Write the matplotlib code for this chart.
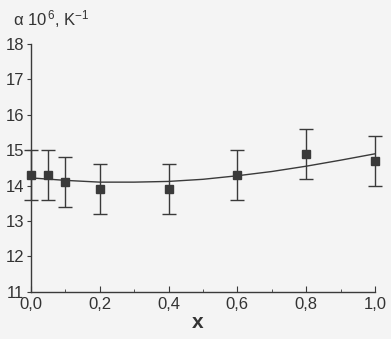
import matplotlib
matplotlib.use("Agg")
import matplotlib.pyplot as plt
from matplotlib.ticker import MultipleLocator

plt.rcParams['font.family'] = ['Liberation Sans', 'DejaVu Sans']
plt.rcParams['mathtext.fontset'] = 'custom'
plt.rcParams['mathtext.rm'] = 'Liberation Sans'
plt.rcParams['mathtext.it'] = 'Liberation Sans:italic'

x_pts = [0.0, 0.05, 0.1, 0.2, 0.4, 0.6, 0.8, 1.0]
alpha_pts = [14.3, 14.3, 14.1, 13.9, 13.9, 14.3, 14.9, 14.7]
alpha_err = [0.7, 0.7, 0.7, 0.7, 0.7, 0.7, 0.7, 0.7]

x_fit = [0.0, 0.1, 0.2, 0.3, 0.4, 0.5, 0.6, 0.7, 0.8, 0.9, 1.0]
alpha_fit = [14.22, 14.15, 14.1, 14.1, 14.12, 14.18, 14.28, 14.4, 14.55, 14.72, 14.9]

xticks = [0.0, 0.2, 0.4, 0.6, 0.8, 1.0]
xticklabels = ['0,0', '0,2', '0,4', '0,6', '0,8', '1,0']
yticks = [11, 12, 13, 14, 15, 16, 17, 18]

col = '#3a3a3a'
fig = plt.figure(figsize=(3.91, 3.39), dpi=100)
fig.patch.set_facecolor('#f4f4f4')
ax = fig.add_axes([0.079, 0.139, 0.88, 0.731])
ax.set_facecolor('#f4f4f4')

ax.plot(x_fit, alpha_fit, color=col, lw=1.0, clip_on=False)
eb = ax.errorbar(x_pts, alpha_pts, yerr=alpha_err, fmt='s', color=col, ms=6,
                 ecolor=col, elinewidth=1.0, capsize=5, capthick=1.0)
eb[0].set_clip_on(False)
for a in eb[1]:
    a.set_clip_on(False)
for a in eb[2]:
    a.set_clip_on(False)

ax.set_xlim(0, 1.0)
ax.set_ylim(11, 18)
ax.set_xticks(xticks)
ax.set_xticklabels(xticklabels)
ax.xaxis.set_minor_locator(MultipleLocator(0.1))
ax.set_yticks(yticks)
for s in ['top', 'right']:
    ax.spines[s].set_visible(False)
for s in ['left', 'bottom']:
    ax.spines[s].set_color(col)
    ax.spines[s].set_linewidth(1.0)
ax.tick_params(axis='x', which='major', direction='in', length=4, color=col,
               labelsize=12, labelcolor='#333333', pad=4)
ax.tick_params(axis='x', which='minor', direction='in', length=2, color=col)
ax.tick_params(axis='y', which='major', direction='out', length=3, color=col,
               labelsize=12, labelcolor='#333333', pad=2)

fig.text(13 / 391, 1 - 25 / 339, 'α 10$^{\\,6}$, K$^{-1}$', fontsize=12,
         color='#333333', ha='left', va='baseline')
fig.text(198 / 391, 1 - 328 / 339, 'x', fontsize=15, fontweight='bold',
         color='#333333', ha='center', va='baseline')

fig.savefig('out.png', dpi=100, facecolor=fig.get_facecolor())
